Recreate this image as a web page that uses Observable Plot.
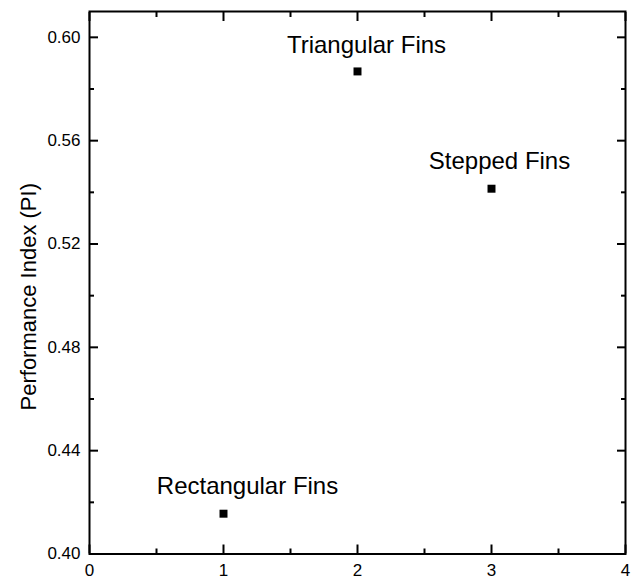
<!DOCTYPE html>
<html><head><meta charset="utf-8">
<script src="https://cdn.jsdelivr.net/npm/d3@7"></script>
<script src="https://cdn.jsdelivr.net/npm/@observablehq/plot@0.6"></script>
<style>body{margin:0;background:#fff}</style>
</head><body><div id="chart"></div>
<script>
const categories = ["Rectangular Fins", "Triangular Fins", "Stepped Fins"];
const xValues = [1, 2, 3];
const piValues = [0.4156, 0.5868, 0.5414];
const xMajorTicks = [0, 1, 2, 3, 4];
const xMinorTicks = [0.5, 1.5, 2.5, 3.5];
const yMajorTicks = [0.40, 0.44, 0.48, 0.52, 0.56, 0.60];
const yMinorTicks = [0.42, 0.46, 0.50, 0.54, 0.58];
const yLabel = "Performance Index (PI)";

const data = categories.map((c, i) => ({name: c, x: xValues[i], y: piValues[i]}));
const labelOffsets = {
  "Rectangular Fins": {dx: 24, dy: -20},
  "Triangular Fins": {dx: 9, dy: -18},
  "Stepped Fins": {dx: 8, dy: -20}
};
const font = "'Liberation Sans', Arial, Helvetica, sans-serif";
const blank = () => "";

const tickAxes = [];
for (const anchor of ["bottom", "top"]) {
  tickAxes.push(Plot.axisX({anchor, ticks: xMajorTicks, tickSize: -9, strokeWidth: 2, tickFormat: blank, label: null}));
  tickAxes.push(Plot.axisX({anchor, ticks: xMinorTicks, tickSize: -5, strokeWidth: 2, tickFormat: blank, label: null}));
}
for (const anchor of ["left", "right"]) {
  tickAxes.push(Plot.axisY({anchor, ticks: yMajorTicks, tickSize: -9, strokeWidth: 2, tickFormat: blank, label: null}));
  tickAxes.push(Plot.axisY({anchor, ticks: yMinorTicks, tickSize: -5, strokeWidth: 2, tickFormat: blank, label: null}));
}

const chart = Plot.plot({
  width: 632,
  height: 579,
  marginLeft: 89,
  marginRight: 7,
  marginTop: 11,
  marginBottom: 25.5,
  style: {fontFamily: font, fontSize: "17px", color: "#000", background: "#fff"},
  x: {domain: [0, 4]},
  y: {domain: [0.40, 0.61]},
  marks: [
    ...tickAxes,
    Plot.axisX({anchor: "bottom", ticks: xMajorTicks, tickSize: 0, tickPadding: 9.5, tickFormat: d => String(d), label: null, fontSize: 17}),
    Plot.axisY({anchor: "left", ticks: yMajorTicks, tickSize: 0, tickPadding: 9, tickFormat: d => d.toFixed(2), label: null, fontSize: 17}),
    Plot.frame({stroke: "#000", strokeWidth: 2}),
    Plot.text([yLabel], {frameAnchor: "left", rotate: -90, dx: -69, dy: 14, lineAnchor: "top", textAnchor: "middle", fontSize: 22, fill: "#000"}),
    Plot.dot(data, {x: "x", y: "y", symbol: "square", r: 4.5, fill: "#000", stroke: null}),
    ...data.map(d => Plot.text([d], {x: "x", y: "y", text: "name", textAnchor: "middle", lineAnchor: "bottom", fontSize: 24, fill: "#000", ...labelOffsets[d.name]}))
  ]
});
document.getElementById("chart").appendChild(chart);
</script>
</body></html>
